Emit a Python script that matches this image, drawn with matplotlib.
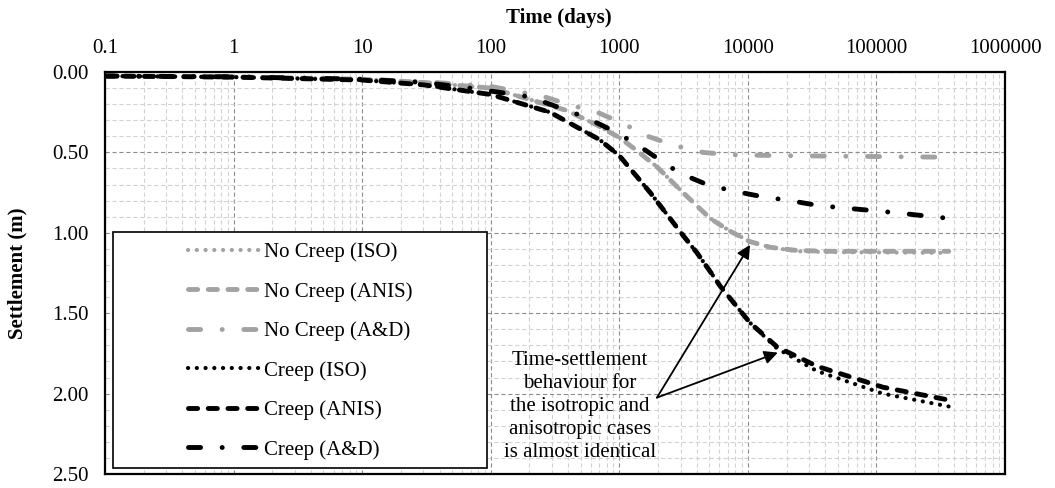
import matplotlib
matplotlib.use("Agg")
import matplotlib.pyplot as plt
from matplotlib.lines import Line2D
from matplotlib.patches import Rectangle
from matplotlib.ticker import FixedLocator, LogLocator, MultipleLocator, FuncFormatter, NullFormatter

plt.rcParams['font.family'] = ['Liberation Serif', 'DejaVu Serif']
plt.rcParams['lines.scale_dashes'] = False
plt.rcParams['font.size'] = 15

# ---- time-settlement data (time in days, settlement in m) ----
t_nc_iso = [0.1, 1, 10, 30, 100, 242, 392, 671, 1014, 1375, 1965, 3130, 5080, 7270,
            10400, 14900, 24100, 43500, 365000]
s_nc_iso = [0.025, 0.03, 0.045, 0.065, 0.10, 0.19, 0.24, 0.33, 0.41, 0.49, 0.59, 0.75,
            0.91, 0.99, 1.055, 1.09, 1.115, 1.12, 1.125]

t_nc_anis = [0.1, 1, 10, 30, 100, 242, 392, 671, 1014, 1375, 1965, 3130, 5080, 7270,
             10400, 14900, 24100, 43500, 365000]
s_nc_anis = [0.025, 0.03, 0.045, 0.065, 0.10, 0.19, 0.24, 0.33, 0.41, 0.49, 0.59, 0.75,
             0.91, 0.99, 1.055, 1.09, 1.11, 1.115, 1.115]

t_nc_ad = [0.1, 1, 10, 30, 100, 251, 414, 671, 1070, 1670, 2620, 4480, 7390, 17800, 365000]
s_nc_ad = [0.025, 0.03, 0.045, 0.06, 0.09, 0.15, 0.205, 0.25, 0.32, 0.40, 0.455, 0.50,
           0.515, 0.52, 0.53]

t_c_iso = [0.1, 1, 10, 30, 100, 289, 700, 1000, 1740, 3160, 4025, 5400, 6070, 10400,
           16900, 34500, 112000, 365000]
s_c_iso = [0.025, 0.032, 0.05, 0.08, 0.14, 0.25, 0.42, 0.52, 0.75, 1.02, 1.125, 1.27,
           1.33, 1.56, 1.72, 1.86, 2.00, 2.08]

t_c_anis = [0.1, 1, 10, 30, 100, 289, 700, 1000, 1740, 3160, 4025, 5400, 6070, 10400,
            16900, 34500, 112000, 365000]
s_c_anis = [0.025, 0.032, 0.05, 0.08, 0.14, 0.25, 0.42, 0.52, 0.75, 1.02, 1.125, 1.27,
            1.33, 1.56, 1.71, 1.83, 1.96, 2.04]

t_c_ad = [0.1, 1, 10, 30, 69, 125, 202, 541, 817, 1280, 1965, 2965, 4810, 7660, 12880,
          21300, 35200, 55000, 142000, 239000, 365000]
s_c_ad = [0.025, 0.03, 0.045, 0.065, 0.10, 0.13, 0.155, 0.28, 0.35, 0.435, 0.535, 0.63,
          0.70, 0.74, 0.775, 0.80, 0.83, 0.845, 0.875, 0.895, 0.91]

x_ticks = [0.1, 1, 10, 100, 1000, 10000, 100000, 1000000]
x_tick_labels = ['0.1', '1', '10', '100', '1000', '10000', '100000', '1000000']
y_ticks = [0.0, 0.5, 1.0, 1.5, 2.0, 2.5]

labels = ['No Creep (ISO)', 'No Creep (ANIS)', 'No Creep (A&D)',
          'Creep (ISO)', 'Creep (ANIS)', 'Creep (A&D)']

GRAY = '#a2a2a2'
BLACK = '#000000'
DOT = (0, (0.1, 6.2))
DASH = (0, (6.6, 7.6))
DASHDOT = (0, (8.7, 15.5, 0.1, 15.5))

styles = [
    dict(color=GRAY, ls=DOT, lw=3.0),
    dict(color=GRAY, ls=DASH, lw=3.5),
    dict(color=GRAY, ls=DASHDOT, lw=3.5),
    dict(color=BLACK, ls=DOT, lw=3.0),
    dict(color=BLACK, ls=DASH, lw=3.5),
    dict(color=BLACK, ls=DASHDOT, lw=3.5),
]
series = [(t_nc_iso, s_nc_iso), (t_nc_anis, s_nc_anis), (t_nc_ad, s_nc_ad),
          (t_c_iso, s_c_iso), (t_c_anis, s_c_anis), (t_c_ad, s_c_ad)]

fig = plt.figure(figsize=(10.55, 4.88), dpi=100)
ax = fig.add_axes([105 / 1055, 1 - 474 / 488, 900 / 1055, 402 / 488])

ax.set_xscale('log')
ax.set_xlim(0.1, 1e6)
ax.set_ylim(2.5, 0.0)

ax.xaxis.set_major_locator(FixedLocator(x_ticks))
ax.xaxis.set_major_formatter(FuncFormatter(
    lambda v, p: x_tick_labels[x_ticks.index(min(x_ticks, key=lambda k: abs(k - v)))]))
ax.xaxis.set_minor_locator(LogLocator(base=10, subs=range(2, 10), numticks=20))
ax.xaxis.set_minor_formatter(NullFormatter())
ax.yaxis.set_major_locator(FixedLocator(y_ticks))
ax.yaxis.set_major_formatter(FuncFormatter(lambda v, p: f'{v:.2f}'))
ax.yaxis.set_minor_locator(MultipleLocator(0.1))

ax.xaxis.tick_top()
ax.tick_params(which='both', length=0)
ax.tick_params(axis='x', which='major', pad=10, labelsize=15)
ax.tick_params(axis='y', which='major', pad=12, labelsize=15)

ax.grid(which='minor', color='#d2d2d2', ls=(0, (3, 2)), lw=0.8)
ax.grid(which='major', color='#8c8c8c', ls=(0, (3, 2)), lw=0.8)
ax.set_axisbelow(True)
for sp in ax.spines.values():
    sp.set_linewidth(1.6)

handles = []
for (t, s), st, lab in zip(series, styles, labels):
    ax.plot(t, s, color=st['color'], linestyle=st['ls'], lw=st['lw'],
            dash_capstyle='round', solid_capstyle='round', zorder=3)
    handles.append(Line2D([], [], color=st['color'], linestyle=st['ls'], lw=st['lw'],
                          dash_capstyle='round', label=lab))

# legend frame
ax.add_patch(Rectangle((8 / 900, 6 / 402), 374 / 900, 236 / 402, transform=ax.transAxes,
                       facecolor='white', edgecolor='black', lw=1.2, zorder=4))
leg = ax.legend(handles=handles, loc='center left', bbox_to_anchor=(83 / 900, 0.306),
                frameon=False, fontsize=15, handlelength=3.4, handletextpad=0.25,
                labelspacing=0.95, borderpad=0, borderaxespad=0)
leg.set_zorder(5)

# annotation
ax.text(475 / 900, 0.168, 'Time-settlement\nbehaviour for\nthe isotropic and\nanisotropic cases\nis almost identical',
        transform=ax.transAxes, ha='center', va='center', fontsize=15, linespacing=1.27, zorder=6)
arrow_props = dict(arrowstyle='-|>', mutation_scale=20, lw=1.3, color='black',
                   shrinkA=0, shrinkB=0)
ax.annotate('', xy=(10400, 1.075), xytext=(1963, 2.025), arrowprops=arrow_props, zorder=6)
ax.annotate('', xy=(17100, 1.745), xytext=(1963, 2.025), arrowprops=arrow_props, zorder=6)

fig.text(559 / 1055, 1 - 18 / 488, 'Time (days)', ha='center', va='center',
         fontsize=15, fontweight='bold')
fig.text(17 / 1055, 1 - 273 / 488, 'Settlement (m)', ha='center', va='center',
         rotation=90, fontsize=15, fontweight='bold')

fig.savefig('out.png', dpi=100)
